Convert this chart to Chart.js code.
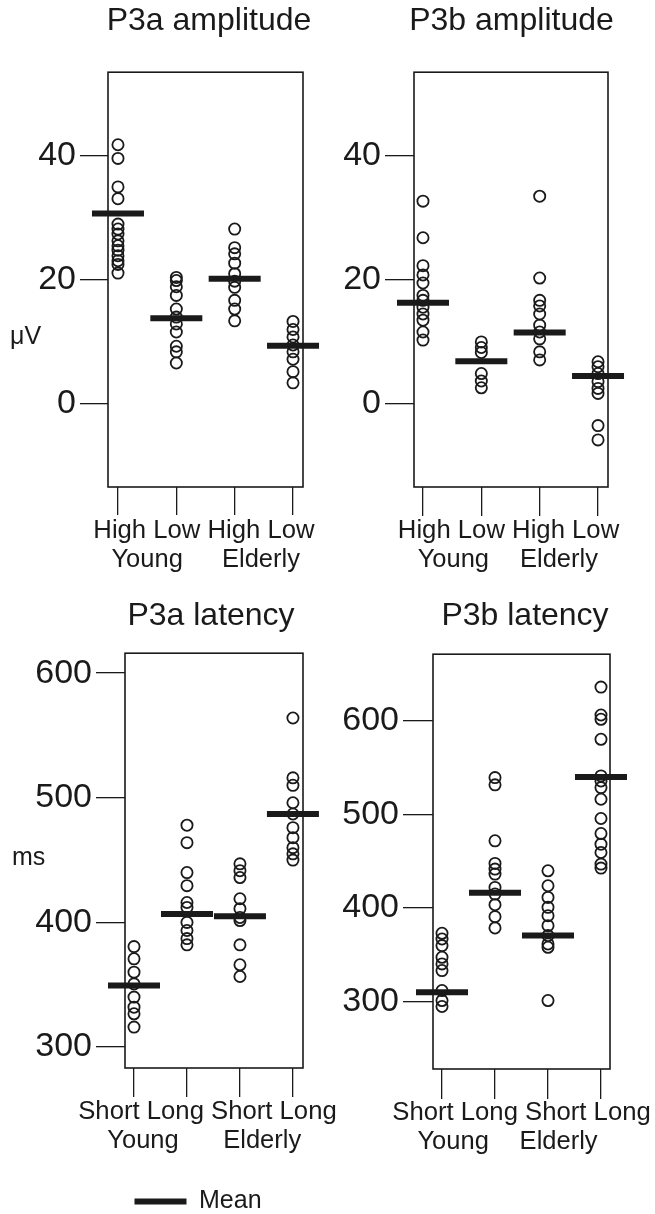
<!DOCTYPE html>
<html><head><meta charset="utf-8">
<script src="https://cdn.jsdelivr.net/npm/chart.js@4.4.1/dist/chart.umd.min.js"></script>
<style>
html,body{margin:0;padding:0;background:#fff;overflow:hidden;width:655px;height:1214px;}
canvas{position:absolute;}
</style></head><body>
<canvas id="c1" width="418" height="580" style="left:0;top:0"></canvas>
<canvas id="c2" width="363" height="580" style="left:330px;top:0"></canvas>
<canvas id="c3" width="422" height="644" style="left:0;top:580px"></canvas>
<canvas id="c4" width="390" height="600" style="left:330px;top:580px"></canvas>
<script>
const FONT = "'Liberation Sans', Arial, Helvetica, sans-serif";
const INK = '#1a1a1a';

// ---- categories / tick labels ----
const ampConditions = ['High', 'Low', 'High', 'Low'];
const latConditions = ['Short', 'Long', 'Short', 'Long'];
const ageGroups = ['Young', 'Elderly'];
const ampTicks = [0, 20, 40];
const latTicks = [300, 400, 500, 600];

// ---- P3a amplitude (µV): Young-High, Young-Low, Elderly-High, Elderly-Low ----
const p3aAmp = [
  [41.7, 39.5, 34.9, 33.0, 28.9, 28.1, 27.3, 26.2, 25.4, 24.7, 23.8, 23.0, 22.4, 21.0],
  [20.3, 19.8, 18.8, 17.4, 15.2, 13.9, 12.8, 11.5, 9.2, 8.3, 6.5],
  [28.1, 25.1, 24.1, 22.6, 20.9, 19.7, 18.7, 16.6, 15.2, 13.3],
  [13.2, 11.9, 10.7, 9.4, 8.3, 7.1, 5.1, 3.3]
];
const p3aAmpMean = [30.6, 13.7, 20.1, 9.3];

// ---- P3b amplitude (µV) ----
const p3bAmp = [
  [32.6, 26.7, 22.2, 20.7, 19.4, 17.4, 16.6, 15.5, 14.4, 13.4, 11.5, 10.2],
  [9.9, 9.0, 8.2, 4.8, 3.6, 2.5],
  [33.4, 20.2, 16.6, 15.7, 14.4, 12.6, 11.5, 10.4, 8.3, 7.0],
  [6.7, 5.9, 4.8, 3.5, 2.4, 1.6, -3.6, -5.9]
];
const p3bAmpMean = [16.2, 6.8, 11.4, 4.4];

// ---- P3a latency (ms): Young-Short, Young-Long, Elderly-Short, Elderly-Long ----
const p3aLat = [
  [380.6, 370.8, 360.1, 350.7, 340.1, 332.0, 326.7, 316.0],
  [478, 464, 440, 429.5, 416, 412, 400, 393.5, 387, 382],
  [447, 441.5, 436, 419, 411, 404, 401.5, 382, 366, 356.6],
  [564, 516, 510, 496, 487, 476, 468, 460, 455, 450]
];
const p3aLatMean = [349.4, 406.8, 405.0, 487.0];

// ---- P3b latency (ms) ----
const p3bLat = [
  [372.7, 366.6, 359.5, 347.0, 339.9, 332.8, 311.4, 300.7, 294.3],
  [539.4, 531.6, 471.7, 447.5, 441.4, 436.1, 421.8, 414.7, 403.3, 390.5, 378.4],
  [439.6, 423.6, 411.1, 400.5, 391.6, 380.9, 370.2, 361.3, 357.7, 300.7],
  [636.3, 606.4, 601.8, 580.4, 541.2, 535.8, 528.7, 516.2, 495.6, 479.5, 468.1, 459.2, 446.8, 442.5]
];
const p3bLatMean = [309.6, 416.1, 370.2, 540.1];

// ---- plugins (box frame + unit label) ----
const framePlugin = {
  id: 'frame',
  beforeDatasetsDraw(chart) {
    const a = chart.chartArea, ctx = chart.ctx;
    ctx.save();
    ctx.strokeStyle = INK; ctx.lineWidth = 1.6;
    ctx.strokeRect(a.left, a.top, a.right - a.left, a.bottom - a.top);
    ctx.restore();
  }
};
const unitPlugin = {
  id: 'unitLabel',
  afterDraw(chart, args, opts) {
    if (!opts || !opts.text) return;
    const ctx = chart.ctx;
    ctx.save();
    ctx.font = '25px ' + FONT;
    ctx.fillStyle = INK; ctx.textAlign = 'left'; ctx.textBaseline = 'middle';
    ctx.fillText(opts.text, opts.x, opts.y);
    ctx.restore();
  }
};

function fixSize(prop, size) {
  return s => {
    s[prop] = size;
    s.paddingLeft = 0; s.paddingRight = 0; s.paddingTop = 0; s.paddingBottom = 0;
  };
}

function makeChart(c) {
  const pts = [];
  c.values.forEach((col, i) => col.forEach(v => pts.push({x: i + 1, y: v})));
  const meanPts = c.means.map((m, i) => ({x: i + 1, y: m}));
  const condFont = {family: FONT, size: 25.7};
  const groupFont = {family: FONT, size: 25.5};
  const noGrid = {display: false, drawTicks: false, tickLength: 0};
  return new Chart(document.getElementById(c.id), {
    type: 'scatter',
    data: {
      datasets: [
        {label: 'Mean', data: meanPts, pointStyle: 'line', pointRadius: 26, pointHoverRadius: 26,
         borderWidth: 6, borderColor: INK, backgroundColor: INK, clip: false},
        {label: 'Data', data: pts, pointStyle: 'circle', pointRadius: 5.6, pointHoverRadius: 5.6,
         borderWidth: 1.8, borderColor: INK, backgroundColor: 'rgba(0,0,0,0)', clip: false}
      ]
    },
    options: {
      responsive: false, animation: false, events: [],
      layout: {padding: 0},
      plugins: {
        title: {display: true, text: c.title, color: INK,
                font: {family: FONT, size: 32, weight: 'normal'},
                padding: {top: c.titleTop, bottom: c.titleBottom}},
        legend: c.legend ? {
          display: true, position: 'bottom', fullSize: false, align: 'start',
          labels: {filter: it => it.text === 'Mean', usePointStyle: true, pointStyleWidth: 52,
                   color: INK, font: {family: FONT, size: 25}, padding: 9.5}
        } : {display: false},
        tooltip: {enabled: false},
        unitLabel: c.unit || {}
      },
      scales: {
        x: {
          type: 'linear', position: 'bottom', min: c.xMin, max: c.xMax,
          afterBuildTicks: s => { s.ticks = c.conditions.map((_, i) => ({value: i + 1})); },
          afterFit: fixSize('height', c.tl),
          ticks: {display: false},
          grid: {display: true, drawOnChartArea: false, drawTicks: true, tickLength: c.tl,
                 color: INK, lineWidth: 1.3},
          border: {display: false}
        },
        xl: {
          type: 'linear', position: 'bottom', min: c.xMin, max: c.xMax,
          afterBuildTicks: s => { s.ticks = [{value: c.condCenter}]; },
          afterFit: fixSize('height', 58 - c.tl),
          ticks: {callback: () => c.conditions.join(' '), font: condFont, color: INK,
                  padding: 28 - c.tl, maxRotation: 0, autoSkip: false},
          grid: noGrid, border: {display: false}
        },
        x2: {
          type: 'linear', position: 'bottom', min: c.xMin, max: c.xMax,
          afterBuildTicks: s => { s.ticks = c.groupCenters.map(v => ({value: v})); },
          afterFit: fixSize('height', c.x2h),
          ticks: {callback: (v, i) => ageGroups[i], font: groupFont, color: INK, padding: -0.5,
                  maxRotation: 0, autoSkip: false},
          grid: noGrid, border: {display: false}
        },
        y: {
          type: 'linear', position: 'left', min: c.yMin, max: c.yMax,
          afterBuildTicks: s => { s.ticks = c.yTicks.map(v => ({value: v})); },
          afterFit: fixSize('width', c.yw),
          ticks: {callback: v => String(v), font: {family: FONT, size: 34}, color: INK, padding: 4},
          grid: {display: true, drawOnChartArea: false, drawTicks: true, tickLength: c.tl,
                 color: INK, lineWidth: 1.3},
          border: {display: false}
        },
        spacer: {
          type: 'linear', position: 'right', min: 0, max: 1,
          afterFit: fixSize('width', c.spacer),
          ticks: {display: false}, grid: noGrid, border: {display: false}
        }
      }
    },
    plugins: [framePlugin, unitPlugin]
  });
}

makeChart({id: 'c1', title: 'P3a amplitude', values: p3aAmp, means: p3aAmpMean,
  conditions: ampConditions, condCenter: 2.474, groupCenters: [1.5, 3.45],
  yTicks: ampTicks, xMin: 0.829, xMax: 4.171, yMin: -13.5, yMax: 53.4,
  yw: 108, spacer: 115, titleTop: 2.4, titleBottom: 31.4, x2h: 35, tl: 28,
  unit: {text: 'μV', x: 10, y: 337}});
makeChart({id: 'c2', title: 'P3b amplitude', values: p3bAmp, means: p3bAmpMean,
  conditions: ampConditions, condCenter: 2.466, groupCenters: [1.52, 3.33],
  yTicks: ampTicks, xMin: 0.846, xMax: 4.171, yMin: -13.5, yMax: 53.4,
  yw: 84, spacer: 85, titleTop: 2.4, titleBottom: 31.4, x2h: 35, tl: 29});
makeChart({id: 'c3', title: 'P3a latency', values: p3aLat, means: p3aLatMean,
  conditions: latConditions, condCenter: 2.387, groupCenters: [1.17, 3.42],
  yTicks: latTicks, xMin: 0.83, xMax: 4.19, yMin: 283.2, yMax: 616,
  yw: 125, spacer: 119, titleTop: 16.9, titleBottom: 17.9, x2h: 53.5, tl: 29,
  legend: true, unit: {text: 'ms', x: 12, y: 278}});
makeChart({id: 'c4', title: 'P3b latency', values: p3bLat, means: p3bLatMean,
  conditions: latConditions, condCenter: 2.5, groupCenters: [1.21, 3.2],
  yTicks: latTicks, xMin: 0.83, xMax: 4.17, yMin: 227.4, yMax: 671.5,
  yw: 103, spacer: 110, titleTop: 16.9, titleBottom: 18.9, x2h: 53, tl: 30});
</script>
</body></html>
